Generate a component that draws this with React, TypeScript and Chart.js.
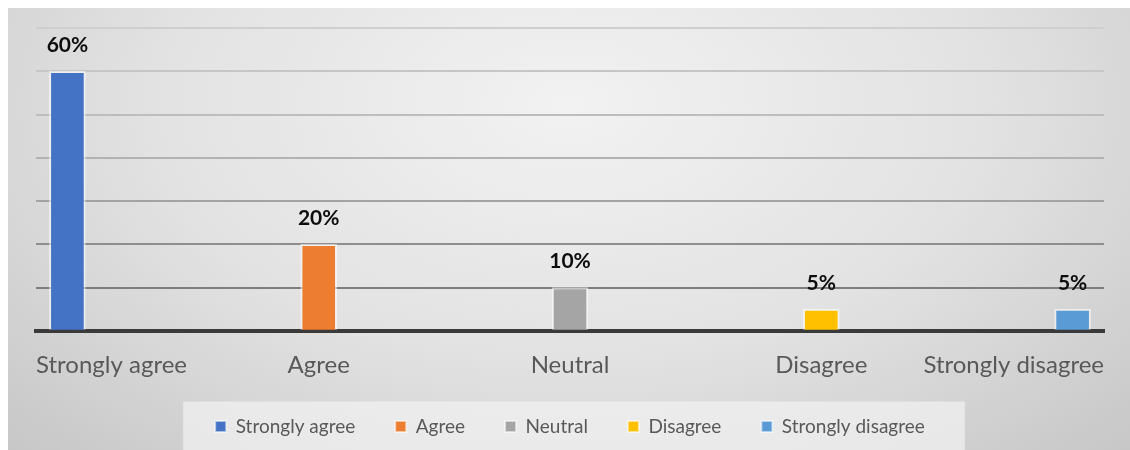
import React, { useEffect, useRef } from "react";
import { Chart, registerables } from "chart.js";

Chart.register(...registerables);

const categories = ["Strongly agree", "Agree", "Neutral", "Disagree", "Strongly disagree"];
const values = [60, 20, 10, 5, 5];
const barColors = ["#4472C4", "#ED7D31", "#A5A5A5", "#FFC000", "#5B9BD5"];
const yMax = 70;
const yStep = 10;

const gridShade = (v: number): string => {
  if (v === 0) return "rgba(0,0,0,0)";
  const shades: Record<number, string> = {
    10: "#7e7e7e",
    20: "#8e8e8e",
    30: "#a3a3a3",
    40: "#b2b2b2",
    50: "#bdbdbd",
    60: "#c6c6c6",
    70: "#cfcfcf",
  };
  return shades[v] || "#c6c6c6";
};

const dataLabelPlugin = {
  id: "dataLabels",
  afterDatasetsDraw(chart: any) {
    const ctx = chart.ctx;
    ctx.save();
    ctx.font = "bold 21px Lato";
    ctx.fillStyle = "#0d0d0d";
    ctx.textAlign = "center";
    ctx.textBaseline = "middle";
    chart.data.datasets.forEach((ds: any, di: number) => {
      const meta = chart.getDatasetMeta(di);
      meta.data.forEach((el: any, i: number) => {
        const v = ds.data[i].y;
        ctx.fillText(v + "%", el.x, el.y - 26);
      });
    });
    ctx.restore();
  },
};

const legendBgPlugin = {
  id: "legendBg",
  beforeDraw(chart: any) {
    const lg = chart.legend;
    if (!lg || !lg.legendHitBoxes || !lg.legendHitBoxes.length) return;
    const hb = lg.legendHitBoxes;
    const left = Math.min(...hb.map((h: any) => h.left)) - 32;
    const right = Math.max(...hb.map((h: any) => h.left + h.width)) + 40;
    const cy = hb[0].top + hb[0].height / 2;
    const ctx = chart.ctx;
    ctx.save();
    ctx.fillStyle = "rgba(242,242,242,0.7)";
    ctx.fillRect(left, cy - 25, right - left, chart.height - (cy - 25));
    ctx.restore();
  },
};

export default function App() {
  const ref = useRef<HTMLCanvasElement | null>(null);

  useEffect(() => {
    if (!ref.current) return;
    Chart.defaults.font.family = "Lato";
    const datasets = categories.map((name, i) => ({
      label: name,
      data: [{ x: i, y: values[i] }],
      backgroundColor: barColors[i],
      borderColor: "rgba(255,255,255,0.55)",
      borderWidth: 2,
      barThickness: 36,
      grouped: false,
    }));
    const chart = new Chart(ref.current, {
      type: "bar",
      data: { datasets } as any,
      options: {
        animation: false,
        responsive: false,
        devicePixelRatio: 1,
        layout: { padding: { left: 28, right: 26, top: 20, bottom: 4 } },
        plugins: {
          tooltip: { enabled: false },
          legend: {
            position: "bottom",
            labels: {
              boxWidth: 11,
              boxHeight: 11,
              padding: 40,
              color: "#595959",
              font: { family: "Lato", size: 19 },
            },
          },
        },
        scales: {
          x: {
            type: "linear",
            offset: false,
            min: -0.125,
            max: categories.length - 1 + 0.125,
            afterBuildTicks: (scale: any) => {
              const n = categories.length;
              scale.ticks = categories.map((_, i) => ({
                value: i === 0 ? scale.min : i === n - 1 ? scale.max : i,
              }));
            },
            afterFit: (scale: any) => {
              scale.height = Math.max(0, scale.height - 23);
            },
            ticks: {
              autoSkip: false,
              maxRotation: 0,
              minRotation: 0,
              align: "inner",
              padding: 25,
              color: "#595959",
              font: { family: "Lato", size: 24, lineHeight: 0.8 },
              callback: (_v: any, index: number) => categories[index],
            },
            grid: { display: false, drawTicks: false },
            border: { display: true, color: "#3a3a3a", width: 4 },
          },
          y: {
            min: 0,
            max: yMax,
            ticks: { display: false, stepSize: yStep },
            grid: {
              drawTicks: false,
              lineWidth: 2,
              color: (ctx: any) => gridShade(ctx.tick ? ctx.tick.value : 0),
            },
            border: { display: false },
          },
        },
      } as any,
      plugins: [legendBgPlugin, dataLabelPlugin],
    });
    return () => chart.destroy();
  }, []);

  return (
    <div
      style={{
        position: "absolute",
        left: 8,
        top: 8,
        width: 1122,
        height: 442,
        background:
          "radial-gradient(ellipse 75% 115% at 50% 22%, #f2f2f2 0%, #e2e2e2 50%, #c4c4c4 100%)",
      }}
    >
      <canvas ref={ref} width={1122} height={442} style={{ display: "block" }} />
    </div>
  );
}
